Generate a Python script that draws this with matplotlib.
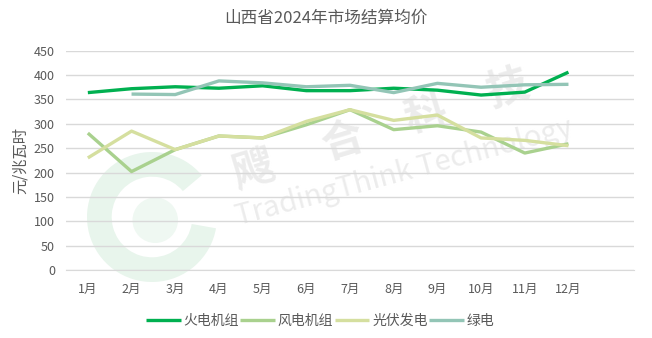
import matplotlib
matplotlib.use('Agg')
import matplotlib.pyplot as plt
from matplotlib.patches import Wedge, Circle
import numpy as np

plt.rcParams['font.family'] = ['Noto Sans CJK SC', 'DejaVu Sans']

# 月份（最后留一个空位）
months = ['1月', '2月', '3月', '4月', '5月', '6月', '7月', '8月', '9月', '10月', '11月', '12月', '']

# 各类电源结算均价，元/兆瓦时
huodian = [364, 372, 376, 373, 378, 368, 368, 373, 369, 359, 365, 406]
fengdian = [281, 202, 247, 275, 271, 298, 329, 288, 296, 283, 240, 259]
guangfu = [230, 285, 247, 275, 271, 305, 329, 307, 318, 271, 266, 255]
lvdian = [np.nan, 361, 360, 388, 384, 376, 379, 364, 383, 375, 380, 381]

series_names = ['火电机组', '风电机组', '光伏发电', '绿电']
series_colors = ['#00b050', '#a9d18e', '#d5df9f', '#93c5b6']

W, H = 652, 338
fig = plt.figure(figsize=(W / 100, H / 100), dpi=100)
ax = fig.add_axes([66 / W, 68 / H, (634 - 66) / W, (270 - 50.7) / H])

# 水印
def px(x, y):
    return x / W, 1 - y / H

logo = fig.add_axes([px(87, 282)[0], px(87, 282)[1], 130 / W, 130 / H])
logo.set_xlim(-1, 1)
logo.set_ylim(-1, 1)
logo.set_aspect('equal')
logo.axis('off')
logo.add_patch(Wedge((0, 0), 1.0, 40, 350, width=0.38, color='#e8f5ec', lw=0))
logo.add_patch(Circle((0.05, -0.05), 0.35, color='#eff8f2', lw=0))
logo.patch.set_alpha(0)
logo.set_zorder(0)

for ch, (x, y) in zip('飕合科技', [(253, 170), (343, 142), (425, 115), (508, 88)]):
    fig.text(*px(x, y), ch, fontsize=30, color='#ececec', rotation=17,
             ha='center', va='center', fontweight='bold', zorder=0)
fig.text(*px(238, 225), 'TradingThink Technology', fontsize=21, color='#ececec',
         rotation=15, ha='left', va='baseline', rotation_mode='anchor', zorder=0)

ax.patch.set_alpha(0)
ax.set_zorder(2)

x = np.arange(len(months))
for vals, name, col in zip([huodian, fengdian, guangfu, lvdian], series_names, series_colors):
    ax.plot(x[:len(vals)], vals, color=col, lw=2.4, label=name, solid_capstyle='butt')

ax.set_xlim(-0.5, len(months) - 0.5)
ax.set_ylim(0, 450)
ax.set_yticks(range(0, 451, 50))
ax.set_xticks(x)
ax.set_xticklabels(months)
ax.grid(axis='y', color='#d9d9d9', lw=1)
ax.set_axisbelow(True)
for s in ['top', 'right', 'left']:
    ax.spines[s].set_visible(False)
ax.spines['bottom'].set_color('#d9d9d9')
ax.tick_params(length=0, labelsize=9, colors='#595959')
ax.tick_params(axis='x', pad=9)
ax.tick_params(axis='y', pad=8)
ax.set_ylabel('元/兆瓦时', fontsize=11, color='#595959', labelpad=4)

fig.text(0.5, 1 - 18 / H, '山西省2024年市场结算均价', fontsize=12, color='#595959',
         ha='center', va='center')

fig.legend(loc='center', bbox_to_anchor=(320 / W, 1 - 321 / H), ncol=4, frameon=False,
           fontsize=10, handlelength=2.5, handletextpad=0.2, columnspacing=0.1,
           labelcolor='#595959')

fig.savefig('out.png', dpi=100)
